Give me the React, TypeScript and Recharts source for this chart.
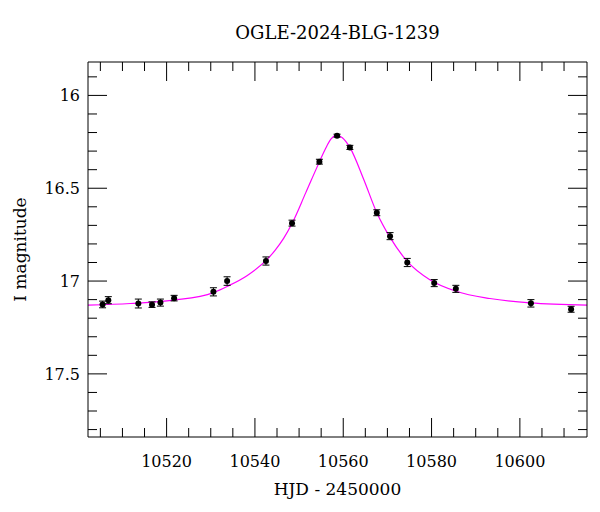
import { ComposedChart, ErrorBar, Line, Scatter, XAxis, YAxis } from "recharts";

// observed OGLE points (HJD - 2450000, I mag, error)
const obsHjd = [
  10505.5, 10506.8, 10513.6, 10516.7, 10518.6, 10521.7, 10530.6, 10533.7, 10542.5, 10548.4,
  10554.6, 10558.6, 10561.5, 10567.6, 10570.6, 10574.5, 10580.6, 10585.5, 10602.5, 10611.6,
];
const obsMag = [
  17.126, 17.103, 17.121, 17.127, 17.116, 17.092, 17.058, 17.0, 16.892, 16.688,
  16.357, 16.217, 16.28, 16.632, 16.758, 16.9, 17.011, 17.042, 17.12, 17.152,
];
const obsErr = [
  0.018, 0.019, 0.024, 0.015, 0.019, 0.015, 0.022, 0.023, 0.022, 0.016,
  0.013, 0.008, 0.011, 0.016, 0.019, 0.022, 0.019, 0.019, 0.02, 0.016,
];

// model curve
const modelHjd = [
  10502.2, 10511.8, 10521.6, 10530.6, 10533.7, 10538.2, 10542.7, 10544.6, 10546.5, 10548.4,
  10551.5, 10554.6, 10556.0, 10557.2, 10558.5, 10559.8, 10561.5, 10564.6, 10567.6, 10570.6,
  10574.5, 10579.6, 10585.7, 10593.2, 10602.3, 10615.2,
];
const modelMag = [
  17.13, 17.121, 17.103, 17.062, 17.029, 16.971, 16.885, 16.833, 16.77, 16.69,
  16.525, 16.358, 16.286, 16.236, 16.214, 16.228, 16.28, 16.45, 16.632, 16.765,
  16.894, 16.993, 17.056, 17.094, 17.118, 17.13,
];

const xTicks = [
  10505, 10510, 10515, 10520, 10525, 10530, 10535, 10540, 10545, 10550, 10555, 10560,
  10565, 10570, 10575, 10580, 10585, 10590, 10595, 10600, 10605, 10610,
];
const xMajor = [10520, 10540, 10560, 10580, 10600];
const yTicks = [
  15.9, 16, 16.1, 16.2, 16.3, 16.4, 16.5, 16.6, 16.7, 16.8, 16.9, 17, 17.1, 17.2, 17.3,
  17.4, 17.5, 17.6, 17.7, 17.8,
];
const yMajor = [16, 16.5, 17, 17.5];

const xDomain: [number, number] = [10502.2, 10615.2];
const yDomain: [number, number] = [15.82, 17.84];

const FONT = "DejaVu Serif";
const MAJOR = 19;
const MINOR = 9;

const points = obsHjd.map((hjd, i) => ({ hjd, mag: obsMag[i], err: obsErr[i] }));
const model = modelHjd.map((hjd, i) => ({ hjd, mag: modelMag[i] }));

const isMajorY = (v: number) => yMajor.some((m) => Math.abs(m - v) < 1e-6);

function BottomTick(props: any) {
  const { x, y, payload } = props;
  const major = xMajor.includes(payload.value);
  return (
    <g>
      <line x1={x} y1={y} x2={x} y2={y - (major ? MAJOR : MINOR)} stroke="#000" />
      {major ? (
        <text x={x} y={y + 30} textAnchor="middle" fontFamily={FONT} fontSize={16} fill="#000">
          {payload.value}
        </text>
      ) : null}
    </g>
  );
}

function TopTick(props: any) {
  const { x, y, payload } = props;
  const major = xMajor.includes(payload.value);
  return <line x1={x} y1={y} x2={x} y2={y + (major ? MAJOR : MINOR)} stroke="#000" />;
}

function LeftTick(props: any) {
  const { x, y, payload } = props;
  const major = isMajorY(payload.value);
  return (
    <g>
      <line x1={x} y1={y} x2={x + (major ? MAJOR : MINOR)} y2={y} stroke="#000" />
      {major ? (
        <text x={x - 8} y={y + 6} textAnchor="end" fontFamily={FONT} fontSize={16} fill="#000">
          {String(payload.value)}
        </text>
      ) : null}
    </g>
  );
}

function RightTick(props: any) {
  const { x, y, payload } = props;
  const major = isMajorY(payload.value);
  return <line x1={x} y1={y} x2={x - (major ? MAJOR : MINOR)} y2={y} stroke="#000" />;
}

function Dot(props: any) {
  return <circle cx={props.cx} cy={props.cy} r={3} fill="#000" />;
}

export default function App() {
  return (
    <div style={{ position: "absolute", left: 0, top: 0, width: 600, height: 512, background: "#fff" }}>
      <ComposedChart width={600} height={512} margin={{ top: 0, right: 0, bottom: 0, left: 0 }}>
        <XAxis
          xAxisId="bottom"
          dataKey="hjd"
          type="number"
          orientation="bottom"
          domain={xDomain}
          allowDataOverflow
          ticks={xTicks}
          interval={0}
          height={75}
          tickSize={0}
          tickMargin={0}
          tickLine={false}
          tick={BottomTick}
          axisLine={{ stroke: "#000" }}
        />
        <XAxis
          xAxisId="top"
          dataKey="hjd"
          type="number"
          orientation="top"
          domain={xDomain}
          allowDataOverflow
          ticks={xTicks}
          interval={0}
          height={62}
          tickSize={0}
          tickMargin={0}
          tickLine={false}
          tick={TopTick}
          axisLine={{ stroke: "#000" }}
        />
        <YAxis
          yAxisId="left"
          type="number"
          orientation="left"
          reversed
          domain={yDomain}
          allowDataOverflow
          ticks={yTicks}
          interval={0}
          width={88}
          tickSize={0}
          tickMargin={0}
          tickLine={false}
          tick={LeftTick}
          axisLine={{ stroke: "#000" }}
        />
        <YAxis
          yAxisId="right"
          type="number"
          orientation="right"
          reversed
          domain={yDomain}
          allowDataOverflow
          ticks={yTicks}
          interval={0}
          width={13}
          tickSize={0}
          tickMargin={0}
          tickLine={false}
          tick={RightTick}
          axisLine={{ stroke: "#000" }}
        />
        <Line
          data={model}
          xAxisId="bottom"
          yAxisId="left"
          dataKey="mag"
          type="monotone"
          stroke="#ff00ff"
          strokeWidth={1.2}
          dot={false}
          isAnimationActive={false}
        />
        <Scatter
          data={points}
          xAxisId="bottom"
          yAxisId="left"
          dataKey="mag"
          shape={Dot}
          isAnimationActive={false}
        >
          <ErrorBar dataKey="err" direction="y" width={3.5} stroke="#000" strokeWidth={1} isAnimationActive={false} />
        </Scatter>
      </ComposedChart>
      <svg width={600} height={512} style={{ position: "absolute", left: 0, top: 0, pointerEvents: "none" }}>
        <text x={337.5} y={39} textAnchor="middle" fontFamily={FONT} fontSize={18} fill="#000">
          OGLE-2024-BLG-1239
        </text>
        <text x={337.5} y={495} textAnchor="middle" fontFamily={FONT} fontSize={17} fill="#000">
          HJD - 2450000
        </text>
        <text
          x={0}
          y={0}
          transform="translate(26 249.5) rotate(-90)"
          textAnchor="middle"
          fontFamily={FONT}
          fontSize={17}
          fill="#000"
        >
          I magnitude
        </text>
      </svg>
    </div>
  );
}
